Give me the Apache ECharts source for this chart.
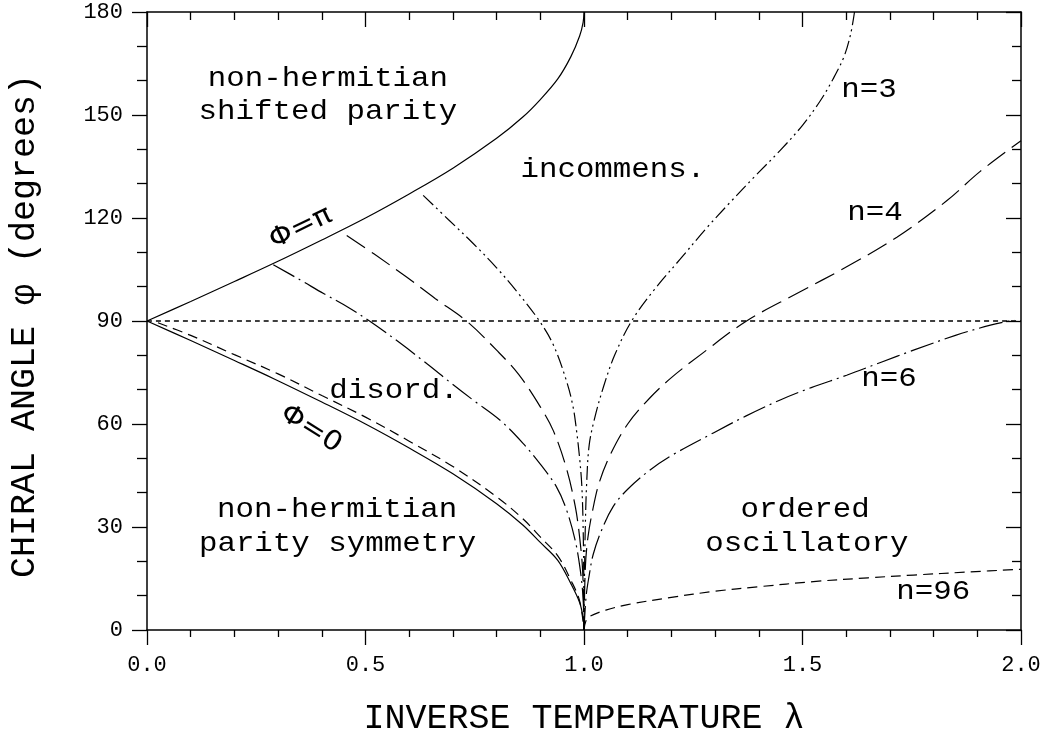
<!DOCTYPE html>
<html>
<head>
<meta charset="utf-8">
<script src="https://cdn.jsdelivr.net/npm/echarts@6/dist/echarts.min.js"></script>
<style>
    html, body {margin:0;padding:0;background:#fff}
    #chart {width:1047px;height:731px}
</style>
</head>
<body>
<div id="chart"></div>
<script>
    // Φ = π boundary (upper solid line)
    var piX = [0, 0.1, 0.2, 0.29, 0.4, 0.5, 0.6, 0.7, 0.8, 0.86, 0.9, 0.94, 0.97, 0.99, 0.998, 1.0];
    var piY = [90, 95.7, 101.5, 106.8, 113.6, 120, 127, 134.5, 143.2, 149.4, 154.5, 160.5, 167, 173, 177, 180];
    // Φ = 0 boundary (lower solid line)
    var zeroX = [0, 0.1, 0.2, 0.29, 0.4, 0.5, 0.6, 0.7, 0.8, 0.86, 0.9, 0.94, 0.97, 0.99, 0.998, 1.0];
    var zeroY = [90, 84.3, 78.5, 73.2, 66.4, 60, 53, 45.5, 36.8, 30.6, 25.5, 20.3, 13.5, 8.0, 3.5, 0];

    // n = 3 (dash dot dot)
    var n3LeftX = [0.632, 0.69, 0.747, 0.8, 0.85, 0.898, 0.93, 0.96, 0.975, 0.983, 0.99, 0.995, 0.998, 0.9995, 1.0];
    var n3LeftY = [126.6, 119.5, 112.5, 105.5, 98, 90, 83, 72.5, 65, 58, 50, 42, 30, 15, 0];
    var n3RightX = [1.0, 1.001, 1.003, 1.006, 1.012, 1.025, 1.045, 1.07, 1.109, 1.16, 1.22, 1.28, 1.334, 1.39, 1.449, 1.5, 1.54, 1.57, 1.595, 1.61, 1.619];
    var n3RightY = [0, 15, 30, 42.5, 54, 62, 71, 80, 90, 99, 108, 117, 124.5, 132, 139.7, 147, 154, 160.5, 167, 173.5, 180];

    // n = 4 (long dash)
    var n4LeftX = [0.457, 0.52, 0.594, 0.66, 0.732, 0.8, 0.85, 0.9, 0.93, 0.96, 0.98, 0.99, 0.997, 1.0];
    var n4LeftY = [114.9, 109.5, 102.8, 96.5, 89.9, 81.5, 74.5, 65, 58, 47, 36, 27, 17, 0];
    var n4RightX = [1.0, 1.003, 1.009, 1.02, 1.035, 1.06, 1.1, 1.15, 1.2, 1.27, 1.372, 1.487, 1.6, 1.716, 1.83, 1.906, 2.0];
    var n4RightY = [0, 18, 27, 35, 43, 51, 60, 67.5, 73.5, 80.5, 90, 98, 105.7, 114.4, 125, 133.5, 142.5];

    // n = 6 (dash dot)
    var n6LeftX = [0.289, 0.35, 0.404, 0.46, 0.51, 0.58, 0.64, 0.7, 0.747, 0.808, 0.861, 0.9, 0.937, 0.96, 0.98, 0.992, 0.998, 1.0];
    var n6LeftY = [106.4, 102, 98, 94, 89.9, 83.5, 77.6, 71.5, 66.9, 61.1, 54.3, 48.3, 41.7, 35, 26, 17, 9, 0];
    var n6RightX = [1.0, 1.005, 1.012, 1.021, 1.04, 1.067, 1.1, 1.15, 1.2, 1.296, 1.37, 1.449, 1.52, 1.601, 1.68, 1.754, 1.85, 1.93, 1.985];
    var n6RightY = [0, 10, 16, 22, 29, 36, 41, 46.5, 50.8, 57.4, 62.3, 67, 70.6, 74.2, 78, 81.5, 85.8, 88.8, 90.3];

    // n = 96 (short dash)
    var n96LeftX = [0.025, 0.1, 0.2, 0.3, 0.4, 0.5, 0.6, 0.7, 0.8, 0.86, 0.9, 0.94, 0.97, 0.99, 1.0];
    var n96LeftY = [89.5, 85.8, 80.2, 74.6, 68.3, 62, 55, 47.6, 38.8, 32.4, 27.1, 21.6, 14.5, 8.5, 0];
    var n96RightX = [1.0, 1.004, 1.014, 1.05, 1.1, 1.2, 1.3, 1.4, 1.525, 1.65, 1.754, 1.88, 2.0];
    var n96RightY = [0, 2.5, 4, 5.8, 7.4, 9.5, 11.3, 12.6, 14.1, 15.2, 16.0, 16.9, 17.7];

    // φ = 90 reference line
    var midX = [0, 2];
    var midY = [90, 90];

    // region texts: [text, λ, φ]
    var notes = [
        ['non-hermitian', 0.414, 160.5],
        ['shifted parity', 0.414, 151.0],
        ['incommens.', 1.066, 134.0],
        ['n=3', 1.652, 157.3],
        ['n=4', 1.666, 121.5],
        ['n=6', 1.698, 73.1],
        ['n=96', 1.799, 11.1],
        ['disord.', 0.565, 69.6],
        ['non-hermitian', 0.435, 35.0],
        ['parity symmetry', 0.436, 25.3],
        ['ordered', 1.506, 35.0],
        ['oscillatory', 1.510, 25.3]
    ];
    // tilted labels on the solid lines: [text, λ, φ, angle]
    var tilted = [
        ['Φ=π', 0.352, 117.1, 0.45],
        ['Φ=0', 0.375, 58.5, -0.56]
    ];

    var FONT = '"Liberation Mono", "DejaVu Sans Mono", monospace';

    function pairs(xs, ys) {
        return xs.map(function (x, i) { return [x, ys[i]]; });
    }

    function curve(xs, ys, dash, width) {
        return {
            type: 'line',
            data: pairs(xs, ys),
            showSymbol: false,
            silent: true,
            smooth: 0.35,
            lineStyle: {color: '#000', width: width || 1.2, type: dash},
            animation: false
        };
    }

    var chart = echarts.init(document.getElementById('chart'));

    var tickStyle = {color: '#000', width: 1.3};
    var option = {
        backgroundColor: '#fff',
        animation: false,
        grid: {left: 147, top: 12, right: 26, bottom: 101, containLabel: false, outerBoundsMode: 'none'},
        xAxis: [
            {
                type: 'value', min: 0, max: 2, interval: 0.5, position: 'bottom',
                name: 'INVERSE TEMPERATURE λ', nameLocation: 'middle', nameGap: 71,
                nameTextStyle: {fontFamily: FONT, fontSize: 35, color: '#000'},
                axisLine: {show: true, onZero: false, lineStyle: {color: '#000', width: 1.5}},
                axisTick: {show: true, inside: false, length: 15, lineStyle: tickStyle},
                minorTick: {show: true, splitNumber: 5, length: 7, lineStyle: tickStyle},
                axisLabel: {
                    fontFamily: FONT, fontSize: 22, color: '#000', margin: 24,
                    formatter: function (v) { return v.toFixed(1); }
                },
                splitLine: {show: false}
            },
            {
                type: 'value', min: 0, max: 2, interval: 0.5, position: 'top',
                axisLine: {show: true, onZero: false, lineStyle: {color: '#000', width: 1.5}},
                axisTick: {show: true, inside: true, length: 15, lineStyle: tickStyle},
                minorTick: {show: true, splitNumber: 5, length: 8, lineStyle: tickStyle},
                axisLabel: {show: false},
                splitLine: {show: false}
            }
        ],
        yAxis: [
            {
                type: 'value', min: 0, max: 180, interval: 30, position: 'left',
                name: 'CHIRAL ANGLE φ (degrees)', nameLocation: 'middle', nameGap: 105,
                nameTextStyle: {fontFamily: FONT, fontSize: 35, color: '#000', padding: [0, 10, 0, 0]},
                axisLine: {show: true, onZero: false, lineStyle: {color: '#000', width: 1.5}},
                axisTick: {show: true, inside: false, length: 15, lineStyle: tickStyle},
                minorTick: {show: true, splitNumber: 3, length: 10, lineStyle: tickStyle},
                axisLabel: {fontFamily: FONT, fontSize: 22, color: '#000', margin: 24},
                splitLine: {show: false}
            },
            {
                type: 'value', min: 0, max: 180, interval: 30, position: 'right',
                axisLine: {show: true, onZero: false, lineStyle: {color: '#000', width: 1.5}},
                axisTick: {show: true, inside: true, length: 15, lineStyle: tickStyle},
                minorTick: {show: true, splitNumber: 3, length: 9, lineStyle: tickStyle},
                axisLabel: {show: false},
                splitLine: {show: false}
            }
        ],
        series: [
            curve(midX, midY, [5, 4], 1.5),
            curve(piX, piY, 'solid'),
            curve(zeroX, zeroY, 'solid'),
            curve(n96LeftX, n96LeftY, [10, 6]),
            curve(n96RightX, n96RightY, [10, 6]),
            curve(n6LeftX, n6LeftY, [24, 5, 2, 5]),
            curve(n6RightX, n6RightY, [24, 5, 2, 5]),
            curve(n4LeftX, n4LeftY, [22, 8]),
            curve(n4RightX, n4RightY, [22, 8]),
            curve(n3LeftX, n3LeftY, [14, 4, 2, 4, 2, 4]),
            curve(n3RightX, n3RightY, [14, 4, 2, 4, 2, 4])
        ]
    };
    chart.setOption(option);

    // put the texts at their data positions
    var texts = [];
    notes.forEach(function (n) {
        var p = chart.convertToPixel({xAxisIndex: 0, yAxisIndex: 0}, [n[1], n[2]]);
        texts.push({
            type: 'text', x: p[0], y: p[1], scaleX: 1.1, silent: true,
            style: {text: n[0], fontFamily: FONT, fontSize: 28, fill: '#000',
                textAlign: 'center', textVerticalAlign: 'middle'}
        });
    });
    tilted.forEach(function (n) {
        var p = chart.convertToPixel({xAxisIndex: 0, yAxisIndex: 0}, [n[1], n[2]]);
        texts.push({
            type: 'text', x: p[0], y: p[1], rotation: n[3], scaleX: 1.1, silent: true,
            style: {text: n[0], fontFamily: '"DejaVu Sans", sans-serif', fontSize: 27, fill: '#000',
                textAlign: 'center', textVerticalAlign: 'middle'}
        });
    });
    chart.setOption({graphic: texts});
</script>
</body>
</html>
